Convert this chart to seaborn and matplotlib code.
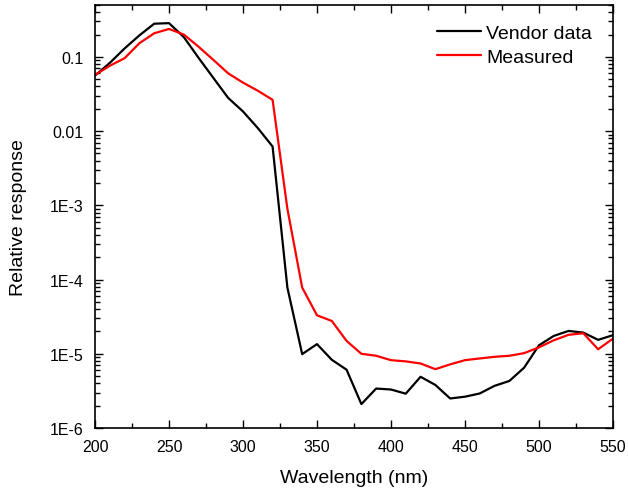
import numpy as np
import pandas as pd
import seaborn as sns
import matplotlib.pyplot as plt
from matplotlib.ticker import LogLocator, FixedLocator, FixedFormatter, MultipleLocator, NullFormatter

# wavelength grid (nm)
wavelength = [200, 210, 220, 230, 240, 250, 260, 270, 280, 290, 300, 310, 320, 330,
              340, 350, 360, 370, 380, 390, 400, 410, 420, 430, 440, 450, 460, 470,
              480, 490, 500, 510, 520, 530, 540, 550]

vendor = [0.056, 0.083, 0.13, 0.195, 0.28, 0.285, 0.185, 0.097, 0.052, 0.028, 0.0184,
          0.011, 0.0062, 7.8e-5, 9.9e-6, 1.35e-5, 8.3e-6, 6.1e-6, 2.1e-6, 3.4e-6,
          3.3e-6, 2.9e-6, 4.9e-6, 3.8e-6, 2.5e-6, 2.64e-6, 2.92e-6, 3.7e-6, 4.3e-6,
          6.5e-6, 1.3e-5, 1.74e-5, 2.03e-5, 1.93e-5, 1.54e-5, 1.78e-5]

measured = [0.057, 0.076, 0.096, 0.153, 0.208, 0.238, 0.2, 0.137, 0.091, 0.060, 0.045,
            0.035, 0.0264, 9e-4, 7.8e-5, 3.3e-5, 2.77e-5, 1.49e-5, 1.0e-5, 9.4e-6,
            8.2e-6, 7.9e-6, 7.4e-6, 6.2e-6, 7.2e-6, 8.2e-6, 8.65e-6, 9.1e-6, 9.4e-6,
            1.02e-5, 1.22e-5, 1.52e-5, 1.8e-5, 1.89e-5, 1.15e-5, 1.6e-5]

series_names = ['Vendor data', 'Measured']
ytick_vals = [1e-6, 1e-5, 1e-4, 1e-3, 1e-2, 1e-1]
ytick_labels = ['1E-6', '1E-5', '1E-4', '1E-3', '0.01', '0.1']

df = pd.concat([
    pd.DataFrame({'wl': wavelength, 'resp': vendor, 'series': series_names[0]}),
    pd.DataFrame({'wl': wavelength, 'resp': measured, 'series': series_names[1]}),
])

sns.set_style('ticks', {'text.color': 'black', 'axes.labelcolor': 'black',
                        'xtick.color': 'black', 'ytick.color': 'black',
                        'axes.edgecolor': 'black'})
plt.rcParams['font.family'] = ['Liberation Sans', 'DejaVu Sans']

fig = plt.figure(figsize=(6.28, 4.89), dpi=100)
ax = fig.add_axes([0.1513, 0.1227, 0.8247, 0.865])

g = sns.lineplot(data=df, x='wl', y='resp', hue='series', palette=['black', 'red'],
                 linewidth=1.6, ax=ax)

ax.set_yscale('log')
ax.set_xlim(200, 550)
ax.set_ylim(1e-6, 0.5)

ax.xaxis.set_major_locator(MultipleLocator(50))
ax.xaxis.set_minor_locator(MultipleLocator(25))
ax.yaxis.set_major_locator(FixedLocator(ytick_vals))
ax.yaxis.set_major_formatter(FixedFormatter(ytick_labels))
ax.yaxis.set_minor_locator(LogLocator(base=10, subs=np.arange(2, 10), numticks=20))
ax.yaxis.set_minor_formatter(NullFormatter())

ax.tick_params(which='both', direction='in', top=True, right=True, labelsize=11.5,
               color='black', labelcolor='black', width=1)
ax.tick_params(which='major', length=6)
ax.tick_params(which='minor', length=3.5)
ax.tick_params(axis='x', which='major', pad=8)
ax.tick_params(axis='y', which='major', pad=8.5)
for s in ax.spines.values():
    s.set_linewidth(1.2)
    s.set_color('black')

ax.set_xlabel('Wavelength (nm)', fontsize=14, labelpad=11)
ax.set_ylabel('Relative response', fontsize=14, labelpad=16)

handles, labels = g.get_legend_handles_labels()
ax.legend(handles, labels, loc='upper right', bbox_to_anchor=(0.96, 0.955), frameon=False,
          fontsize=14, handlelength=2.3, handletextpad=0.26, borderaxespad=0,
          borderpad=0, labelspacing=0.33)

fig.savefig('out.png', dpi=100)
